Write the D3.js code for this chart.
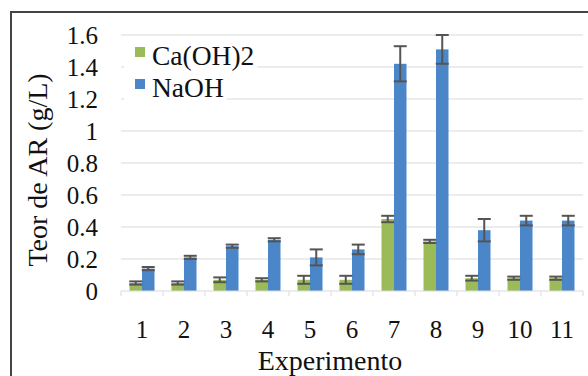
<!DOCTYPE html>
<html>
<head>
<meta charset="utf-8">
<script src="https://cdn.jsdelivr.net/npm/d3@7"></script>
<style>
  body { margin: 0; background: #fff; }
</style>
</head>
<body>
<div id="chart"></div>
<script>
// chart data
const experiments = ["1", "2", "3", "4", "5", "6", "7", "8", "9", "10", "11"];
const caValues = [0.05, 0.05, 0.07, 0.07, 0.07, 0.07, 0.45, 0.31, 0.08, 0.08, 0.08];
const caErrors = [0.01, 0.01, 0.015, 0.01, 0.025, 0.025, 0.02, 0.01, 0.015, 0.01, 0.01];
const naValues = [0.14, 0.21, 0.28, 0.32, 0.21, 0.26, 1.42, 1.51, 0.38, 0.44, 0.44];
const naErrors = [0.01, 0.01, 0.01, 0.01, 0.05, 0.03, 0.11, 0.09, 0.07, 0.03, 0.03];
const yTicks = [0, 0.2, 0.4, 0.6, 0.8, 1, 1.2, 1.4, 1.6];
const seriesNames = ["Ca(OH)2", "NaOH"];
const seriesColors = ["#9bbb59", "#4a86c8"];

const W = 588, H = 376;
const svg = d3.select("#chart").append("svg")
    .attr("width", W)
    .attr("height", H)
    .attr("font-family", "'Liberation Serif', 'Times New Roman', Times, serif")
    .style("fill", "#111");

// outer frame (only top and left visible)
svg.append("path")
    .attr("fill", "none")
    .attr("stroke", "#444")
    .attr("stroke-width", 2)
    .attr("d", "M11,400L11,12L600,12");

const x = d3.scaleBand()
    .domain(experiments)
    .range([121, 583])
    .paddingInner(0)
    .paddingOuter(0);

const y = d3.scaleLinear()
    .domain([0, 1.6])
    .range([291, 35]);

// gridlines
svg.append("g")
    .selectAll("line")
    .data(yTicks.slice(1))
    .join("line")
    .attr("x1", 121)
    .attr("x2", 583)
    .attr("y1", d => y(d))
    .attr("y2", d => y(d))
    .attr("stroke", "#d9d9d9")
    .attr("stroke-width", 1.2);

// y tick labels
svg.append("g")
    .selectAll("text")
    .data(yTicks)
    .join("text")
    .attr("x", 98)
    .attr("y", d => y(d))
    .attr("dy", "0.34em")
    .attr("text-anchor", "end")
    .attr("font-size", 25)
    .text(d => d);

// bars
const barW = 12.5;
const groups = [
    {vals: caValues, errs: caErrors, color: seriesColors[0], off: 0},
    {vals: naValues, errs: naErrors, color: seriesColors[1], off: 1}
];
groups.forEach(g => {
    const start = d => x(d) + x.bandwidth() / 2 - barW + g.off * barW;
    svg.append("g")
        .selectAll("rect")
        .data(experiments)
        .join("rect")
        .attr("x", d => start(d))
        .attr("y", (d, i) => y(g.vals[i]))
        .attr("width", barW)
        .attr("height", (d, i) => y(0) - y(g.vals[i]))
        .attr("fill", g.color);
});

// error bars
groups.forEach(g => {
    const cx = d => x(d) + x.bandwidth() / 2 - barW / 2 + g.off * barW;
    const eg = svg.append("g")
        .attr("stroke", "#555")
        .attr("stroke-width", 2);
    experiments.forEach((d, i) => {
        const top = y(g.vals[i] + g.errs[i]);
        const bot = y(g.vals[i] - g.errs[i]);
        eg.append("line")
            .attr("x1", cx(d)).attr("x2", cx(d))
            .attr("y1", top).attr("y2", bot);
        [top, bot].forEach(v => {
            eg.append("line")
                .attr("x1", cx(d) - 6.5).attr("x2", cx(d) + 6.5)
                .attr("y1", v).attr("y2", v);
        });
    });
});

// x axis
const xAxis = svg.append("g");
xAxis.append("line")
    .attr("x1", 121).attr("x2", 583)
    .attr("y1", y(0)).attr("y2", y(0))
    .attr("stroke", "#d9d9d9")
    .attr("stroke-width", 1.2);
xAxis.selectAll(".tick")
    .data(experiments.concat(["end"]))
    .join("line")
    .attr("x1", (d, i) => 121 + i * x.bandwidth())
    .attr("x2", (d, i) => 121 + i * x.bandwidth())
    .attr("y1", y(0))
    .attr("y2", y(0) + 5)
    .attr("stroke", "#d9d9d9");
xAxis.selectAll("text")
    .data(experiments)
    .join("text")
    .attr("x", d => x(d) + x.bandwidth() / 2)
    .attr("y", 338)
    .attr("text-anchor", "middle")
    .attr("font-size", 25)
    .text(d => d);

// axis titles
svg.append("text")
    .attr("transform", "translate(47,170) rotate(-90)")
    .attr("text-anchor", "middle")
    .attr("font-size", 28)
    .text("Teor de AR (g/L)");

svg.append("text")
    .attr("x", 330)
    .attr("y", 370)
    .attr("text-anchor", "middle")
    .attr("font-size", 28)
    .text("Experimento");

// legend
const legend = svg.append("g");
seriesNames.forEach((name, i) => {
    const base = 65 + i * 32;
    const item = legend.append("g");
    const t = item.append("text")
        .attr("x", 152)
        .attr("y", base)
        .attr("font-size", 27.5)
        .text(name);
    const bw = t.node().getComputedTextLength();
    item.insert("rect", "text")
        .attr("x", 124)
        .attr("y", base - 22)
        .attr("width", 152 + bw + 3 - 124)
        .attr("height", 30)
        .attr("fill", "#fff");
    item.append("rect")
        .attr("x", 135)
        .attr("y", base - 18)
        .attr("width", 10)
        .attr("height", 10)
        .attr("fill", seriesColors[i]);
});
</script>
</body>
</html>
